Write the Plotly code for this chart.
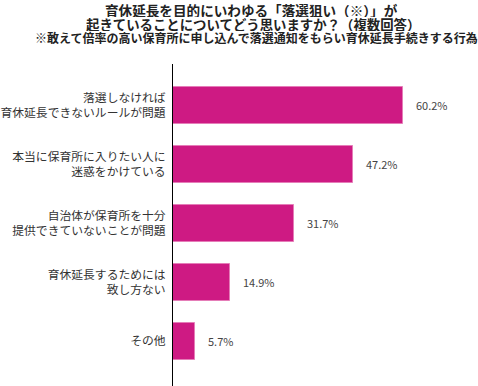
import plotly.graph_objects as go

categories = [
    "落選しなければ<br>育休延長できないルールが問題",
    "本当に保育所に入りたい人に<br>迷惑をかけている",
    "自治体が保育所を十分<br>提供できていないことが問題",
    "育休延長するためには<br>致し方ない",
    "その他",
]
values = [60.2, 47.2, 31.7, 14.9, 5.7]
value_labels = ["60.2%", "47.2%", "31.7%", "14.9%", "5.7%"]

title_lines = [
    "育休延長を目的にいわゆる「落選狙い（※）」が",
    "起きていることについてどう思いますか？（複数回答）",
    "※敢えて倍率の高い保育所に申し込んで落選通知をもらい育休延長手続きする行為",
]

W, H = 478, 386
L, R, T, B = 173, 0, 64, 0
pw, ph = W - L - R, H - T - B

def px(x):
    return (x - L) / pw

def py(y):
    return (H - B - y) / ph

FONT = "Noto Sans CJK JP, Noto Sans, sans-serif"
BAR = "#CE1A83"

fig = go.Figure()
fig.add_trace(go.Bar(
    x=values,
    y=list(range(len(categories))),
    orientation="h",
    width=0.63,
    marker=dict(color=BAR, line=dict(color="#E57DB8", width=1)),
    hoverinfo="skip",
))

annotations = []
for i, (v, t) in enumerate(zip(values, value_labels)):
    annotations.append(dict(
        x=v, y=i, xref="x", yref="y", text=t, showarrow=False,
        xanchor="left", yanchor="middle", xshift=11,
        font=dict(family=FONT, size=11, color="#444444"),
    ))

title_specs = [
    (title_lines[0], 251, 9, 13.6, 15),
    (title_lines[1], 253, 24, 13.4, 14),
    (title_lines[2], 256, 38, 12, 13),
]
for text, cx, cy, size, hgt in title_specs:
    annotations.append(dict(
        x=px(cx), y=py(cy), xref="paper", yref="paper", text="<b>" + text + "</b>",
        showarrow=False, xanchor="center", yanchor="middle", height=hgt,
        borderpad=0,
        font=dict(family=FONT, size=size, color="#222222"),
    ))

fig.update_layout(
    width=W, height=H,
    margin=dict(l=L, r=R, t=T, b=B, pad=0),
    paper_bgcolor="white", plot_bgcolor="white",
    showlegend=False,
    bargap=0,
    xaxis=dict(range=[0, 80], visible=False, fixedrange=True, automargin=False),
    yaxis=dict(
        range=[4.76, -0.7],
        tickmode="array",
        tickvals=list(range(len(categories))),
        ticktext=categories,
        showline=True, linecolor="black", linewidth=1,
        showgrid=False, zeroline=False, ticks="",
        ticklabelstandoff=4,
        automargin=False,
        tickfont=dict(family=FONT, size=11.8, color="#333333"),
        fixedrange=True,
    ),
    annotations=annotations,
)

fig.write_html(
    "out.html",
    config={"displayModeBar": False},
    post_script="document.body.style.margin='0';document.body.style.overflow='hidden';",
)
